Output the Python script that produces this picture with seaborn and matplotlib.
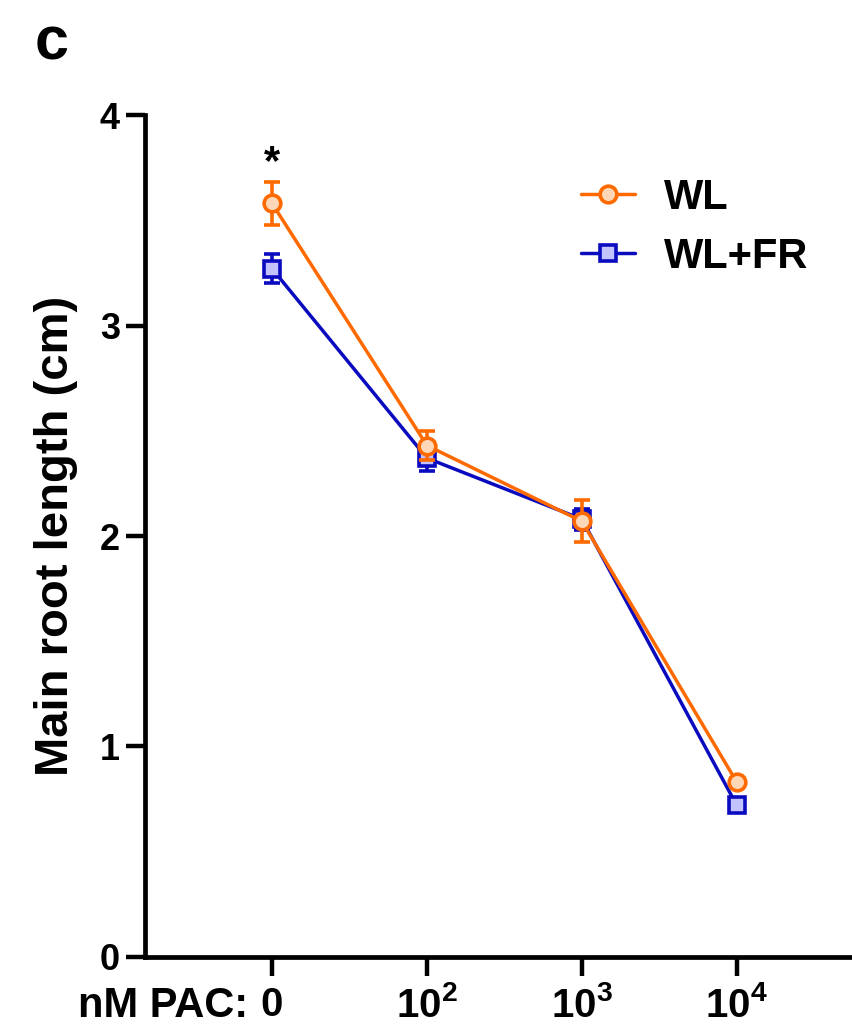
import matplotlib
matplotlib.use("Agg")
import matplotlib.pyplot as plt
import seaborn as sns
import pandas as pd

# Data: main root length (cm) under different paclobutrazol concentrations
conc_labels = ["0", r"$\mathbf{10^{2}}$", r"$\mathbf{10^{3}}$", r"$\mathbf{10^{4}}$"]
wl_mean = [3.58, 2.43, 2.07, 0.83]
wl_sem = [0.10, 0.07, 0.10, 0.02]
wlfr_mean = [3.27, 2.37, 2.08, 0.72]
wlfr_sem = [0.07, 0.06, 0.05, 0.02]
series_names = ["WL", "WL+FR"]

sns.set_style("ticks")
plt.rcParams["font.family"] = ["Liberation Sans", "DejaVu Sans"]
plt.rcParams["font.weight"] = "bold"
plt.rcParams["mathtext.fontset"] = "custom"
plt.rcParams["mathtext.bf"] = "Liberation Sans:bold"
plt.rcParams["mathtext.rm"] = "Liberation Sans:bold"
plt.rcParams["text.color"] = "black"
plt.rcParams["axes.labelcolor"] = "black"
plt.rcParams["xtick.color"] = "black"
plt.rcParams["ytick.color"] = "black"
plt.rcParams["axes.edgecolor"] = "black"

pos = list(range(len(conc_labels)))
df = pd.DataFrame({
    "pos": pos * 2,
    "length": wl_mean + wlfr_mean,
    "group": [series_names[0]] * 4 + [series_names[1]] * 4,
})

orange, orange_fill = "#FF6A00", "#FDD7B8"
blue, blue_fill = "#0A0ABF", "#C3C3FF"

fig = plt.figure(figsize=(8.53, 10.30), dpi=100)
ax = fig.add_axes([0.170, 0.0709, 0.830, 0.8174])

# error bars first (blue under orange)
for mean, sem, col, z in [(wlfr_mean, wlfr_sem, blue, 2), (wl_mean, wl_sem, orange, 4)]:
    ax.errorbar(pos, mean, yerr=sem, fmt="none", ecolor=col, elinewidth=2.6,
                capsize=6, capthick=2.6, zorder=z)

sns.lineplot(data=df[df.group == "WL+FR"], x="pos", y="length", ax=ax,
             color=blue, linewidth=2.5, marker="s", markersize=11,
             markerfacecolor=blue_fill, markeredgecolor=blue, markeredgewidth=2.6,
             label="WL+FR", zorder=3)
sns.lineplot(data=df[df.group == "WL"], x="pos", y="length", ax=ax,
             color=orange, linewidth=2.5, marker="o", markersize=12,
             markerfacecolor=orange_fill, markeredgecolor=orange, markeredgewidth=2.6,
             label="WL", zorder=5)

ax.set_xlim(-0.82, 3.75)
ax.set_ylim(0, 4)
ax.set_yticks([0, 1, 2, 3, 4])
ax.set_xticks(pos)
ax.set_xticklabels(conc_labels)
ax.tick_params(axis="both", width=3.2, length=14)
ax.tick_params(axis="y", labelsize=26, pad=4)
ax.tick_params(axis="x", labelsize=29, pad=7)
for lab in ax.get_yticklabels() + ax.get_xticklabels():
    lab.set_fontweight("bold")

for side in ["top", "right"]:
    ax.spines[side].set_visible(False)
for side in ["left", "bottom"]:
    ax.spines[side].set_linewidth(3.4)

ax.set_xlabel("")
ax.set_ylabel("Main root length (cm)", fontsize=34, fontweight="bold", labelpad=16)

# prefix for the concentration axis
ax.annotate("nM PAC:", xy=(0, 0), xycoords=("data", "axes fraction"),
            xytext=(-17, -21), textcoords="offset points",
            ha="right", va="top", fontsize=30, fontweight="bold")

# significance mark
ax.text(0, 3.77, "*", ha="center", va="center", fontsize=30, fontweight="bold")

# legend in order WL, WL+FR
handles, labels = ax.get_legend_handles_labels()
order = [labels.index("WL"), labels.index("WL+FR")]
ax.legend([handles[i] for i in order], [labels[i] for i in order],
          loc="upper right", bbox_to_anchor=(0.99, 0.97), frameon=False,
          prop={"size": 30, "weight": "bold"}, handlelength=1.3,
          labelspacing=0.45, handletextpad=0.7)

fig.text(0.041, 0.985, "c", fontsize=44, fontweight="bold", va="top", ha="left")

fig.savefig("out.png", dpi=100)
